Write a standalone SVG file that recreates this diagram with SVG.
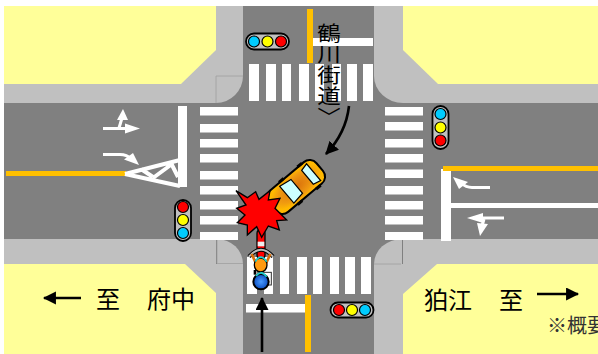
<svg xmlns="http://www.w3.org/2000/svg" width="598" height="354" viewBox="0 0 598 354">
<style>
.yl{fill:#ffff99}.sw{fill:#c0c0c0}.rd{fill:#808080}.w{fill:#fff}.or{fill:#ffc000}
.pill{fill:#c0c0c0;stroke:#000;stroke-width:1.8}
.lamp{stroke:#000;stroke-width:1.2}.b{fill:#00ccff}.y{fill:#ff0}.r{fill:#f00}
.jp{font-family:"Noto Sans CJK JP","Noto Sans CJK SC",sans-serif;fill:#000;font-size:24px}
.wl{fill:none;stroke:#fff;stroke-width:3}
.mv{fill:none;stroke:#000;stroke-width:2.6}
.edge{fill:none;stroke:#a0a0a0;stroke-width:.8}
</style>
<defs>
<marker id="ah" markerWidth="6" markerHeight="6" refX="4.6" refY="2.5" orient="auto"><path d="M0,0L5,2.5L0,5z" fill="#000"/></marker>
<radialGradient id="carg"><stop offset="0" stop-color="#d9700c"/><stop offset=".7" stop-color="#f09a10"/><stop offset="1" stop-color="#ffb800"/></radialGradient>
<radialGradient id="hel"><stop offset="0" stop-color="#4a9cff"/><stop offset="1" stop-color="#0a4cc0"/></radialGradient>
</defs>
<rect width="598" height="354" fill="#fff"/>
<g id="ground">
<rect class="sw" x="4" y="84" width="594" height="180"/>
<rect class="sw" x="216" y="6" width="187" height="348"/>
<rect class="sw" x="175" y="45" width="268" height="255"/>
<path class="yl" d="M4,6H216V50L181,84H4z"/>
<path class="yl" d="M403,6H598V84H438L403,50z"/>
<path class="yl" d="M4,264H185L216,293V354H4z"/>
<path class="yl" d="M437,264H598V354H403V294z"/>
<rect class="rd" x="4" y="103" width="594" height="136"/>
<rect class="rd" x="243" y="6" width="131" height="348"/>
<rect class="rd" x="216" y="76" width="187" height="188"/>
<path class="sw" d="M216,76H243A27,27 0 0 1 216,103z"/>
<path class="edge" d="M216,103V76H243"/>
<path class="sw" d="M403,76H374A29,27 0 0 0 403,103z"/>
<path class="sw" d="M217,264V239A26,25 0 0 1 243,264z"/>
<path class="edge" d="M217,239V263.500H243"/>
<path class="sw" d="M402,264H374A28,25 0 0 1 402,239z"/>
<path class="edge" d="M374,264H401"/>
</g>
<g id="crossings" class="w">
<rect x="249" y="64" width="10" height="37"/><rect x="266" y="64" width="10" height="37"/><rect x="282" y="64" width="9" height="37"/><rect x="299" y="64" width="10" height="37"/><rect x="315" y="64" width="9" height="37"/><rect x="332" y="64" width="9" height="37"/><rect x="347" y="64" width="10" height="37"/><rect x="363" y="64" width="10" height="37"/>
<rect x="247" y="257" width="10" height="37"/><rect x="264" y="257" width="9" height="37"/><rect x="280" y="257" width="9" height="37"/><rect x="297" y="257" width="10" height="37"/><rect x="313" y="257" width="9" height="37"/><rect x="330" y="257" width="9" height="37"/><rect x="345" y="257" width="10" height="37"/><rect x="361" y="257" width="10" height="37"/>
<rect x="200" y="107" width="38" height="8.5"/><rect x="200" y="124" width="38" height="8.5"/><rect x="200" y="139" width="38" height="8.5"/><rect x="200" y="154" width="38" height="8.5"/><rect x="200" y="171" width="38" height="8.5"/><rect x="200" y="186" width="38" height="8.5"/><rect x="200" y="201" width="38" height="8.5"/><rect x="200" y="216" width="38" height="8.5"/><rect x="200" y="232" width="38" height="8"/>
<rect x="385" y="107" width="38" height="8.5"/><rect x="385" y="122" width="38" height="8.5"/><rect x="385" y="139" width="38" height="8.5"/><rect x="385" y="154" width="38" height="8.5"/><rect x="385" y="169.500" width="38" height="8.5"/><rect x="385" y="186" width="38" height="8.5"/><rect x="385" y="201" width="38" height="8.5"/><rect x="385" y="216" width="38" height="8.5"/><rect x="385" y="232" width="38" height="8"/>
</g>
<g id="markings">
<rect class="w" x="312" y="38" width="61" height="8"/>
<rect class="or" x="307" y="9" width="6" height="54"/>
<rect class="w" x="246" y="304" width="60" height="8.500"/>
<rect class="or" x="305" y="295" width="6" height="57"/>
<rect class="w" x="178" y="106" width="9" height="81"/>
<rect class="or" x="6" y="171" width="120" height="5"/>
<path d="M125,174L180,160M125,174L180,186M141,169L153,177M171,163L178,177M153,178L172,164" fill="none" stroke="#fff" stroke-width="4"/>
<path class="wl" d="M103,128.500H128"/><path class="w" d="M140,128.500L125,123.500V133.500z"/>
<path class="wl" d="M119,128L122,118"/><path class="w" d="M123,109L117,120H128z"/>
<path class="wl" d="M103,154.500H120Q127,154.500 131,159"/><path class="w" d="M139,165L124,159.500L133,153z"/>
<rect class="w" x="441" y="169" width="10" height="72"/>
<rect class="or" x="443" y="166" width="155" height="5"/>
<rect class="w" x="451" y="203" width="147" height="5"/>
<path class="wl" d="M490,187.500H472Q466,187.500 461,183"/><path class="w" d="M453,177L468,182L459,189z"/>
<path class="wl" d="M504,218H478"/><path class="w" d="M467,218L483,213V223z"/>
<path class="wl" d="M484,219L482,226"/><path class="w" d="M480,236L477,223L488,224z"/>
</g>
<g id="signal-north"><rect class="pill" x="246" y="33.500" width="43" height="16" rx="8"/><circle class="lamp b" cx="254" cy="41.500" r="5.500"/><circle class="lamp y" cx="267.500" cy="41.500" r="5.500"/><circle class="lamp r" cx="281" cy="41.500" r="5.500"/></g>
<g id="signal-east"><rect class="pill" x="432.500" y="106" width="16" height="43" rx="8"/><circle class="lamp b" cx="440.500" cy="114" r="5.500"/><circle class="lamp y" cx="440.500" cy="127.500" r="5.500"/><circle class="lamp r" cx="440.500" cy="140.500" r="5.500"/></g>
<g id="signal-west"><rect class="pill" x="175" y="200" width="16" height="41" rx="8"/><circle class="lamp r" cx="183" cy="207" r="5.500"/><circle class="lamp y" cx="183" cy="220" r="5.500"/><circle class="lamp b" cx="183" cy="233" r="5.500"/></g>
<g id="signal-south"><rect class="pill" x="330.500" y="302.500" width="43" height="15" rx="7.500"/><circle class="lamp r" cx="339" cy="310" r="5.500"/><circle class="lamp y" cx="352" cy="310" r="5.500"/><circle class="lamp b" cx="365" cy="310" r="5.500"/></g>
<g id="labels">
<text class="jp" transform="translate(329,23) scale(1.18,1)" style="font-size:20px;letter-spacing:1px;writing-mode:vertical-rl">鶴川街道〉</text>
<text class="jp" x="96" y="308">至</text>
<text class="jp" x="147" y="308">府中</text>
<text class="jp" x="424" y="309">狛江</text>
<text class="jp" x="499" y="309">至</text>
<text class="jp" x="547" y="333" style="font-size:20px;fill:#333">※概要</text>
</g>
<g id="car" transform="translate(296,187) rotate(-40)">
<rect x="-31" y="-14" width="62" height="28" rx="9" fill="url(#carg)" stroke="#000" stroke-width="2"/>
<rect x="-10" y="-16" width="6" height="3" fill="#000"/><rect x="-10" y="13" width="6" height="3" fill="#000"/><rect x="14" y="-16" width="6" height="3" fill="#000"/><rect x="14" y="13" width="6" height="3" fill="#000"/>
<path d="M-12,-11L1,-9V9L-12,11z" fill="#ccffff" stroke="#000" stroke-width="1.200"/>
<path d="M15,-9L23,-11V11L15,9z" fill="#ccffff" stroke="#000" stroke-width="1.200"/>
</g>
<g id="bike" transform="translate(160,150) scale(.33333)">
<rect x="291" y="240" width="24" height="85" rx="10" fill="#f00" stroke="#000" stroke-width="4"/>
<rect x="293" y="275" width="20" height="14" fill="#eee"/>
<path d="M267,320Q303,278 339,320" fill="none" stroke="#000" stroke-width="12"/>
<path d="M267,320Q303,278 339,320" fill="none" stroke="#bbb" stroke-width="6"/>
<rect x="300" y="367" width="34" height="38" fill="#fff" stroke="#333" stroke-width="3"/>
<rect x="281" y="360" width="8" height="14" fill="#000"/>
<path d="M275,312L290,345M331,312L316,345" stroke="#d9700c" stroke-width="8"/>
<ellipse cx="302" cy="345" rx="19" ry="21" fill="#ff9a10" stroke="#000" stroke-width="4"/>
<path d="M286,335Q302,308 320,335" fill="none" stroke="#20d0d0" stroke-width="5"/>
<circle cx="303" cy="395" r="23" fill="url(#hel)" stroke="#000" stroke-width="6"/>
<path d="M288,378Q303,358 320,380" fill="none" stroke="#20d0d0" stroke-width="5"/>
</g>
<g id="explosion" transform="translate(160,150) scale(.33333)">
<polygon points="228,122 262,143 287,125 297,148 330,122 325,150 360,145 345,175 380,210 350,212 358,240 325,228 305,262 290,230 262,255 262,225 232,218 255,195 230,175 258,165" fill="#f00" stroke="#000" stroke-width="4"/>
</g>
<g id="connectors">
<path class="mv" d="M349,106Q346,133 326,154" marker-end="url(#ah)"/>
<path class="mv" d="M262,352V298" marker-end="url(#ah)"/>
<path class="mv" d="M81,298H44" marker-end="url(#ah)"/>
<path class="mv" d="M537,294H578" marker-end="url(#ah)"/>
</g>
</svg>
